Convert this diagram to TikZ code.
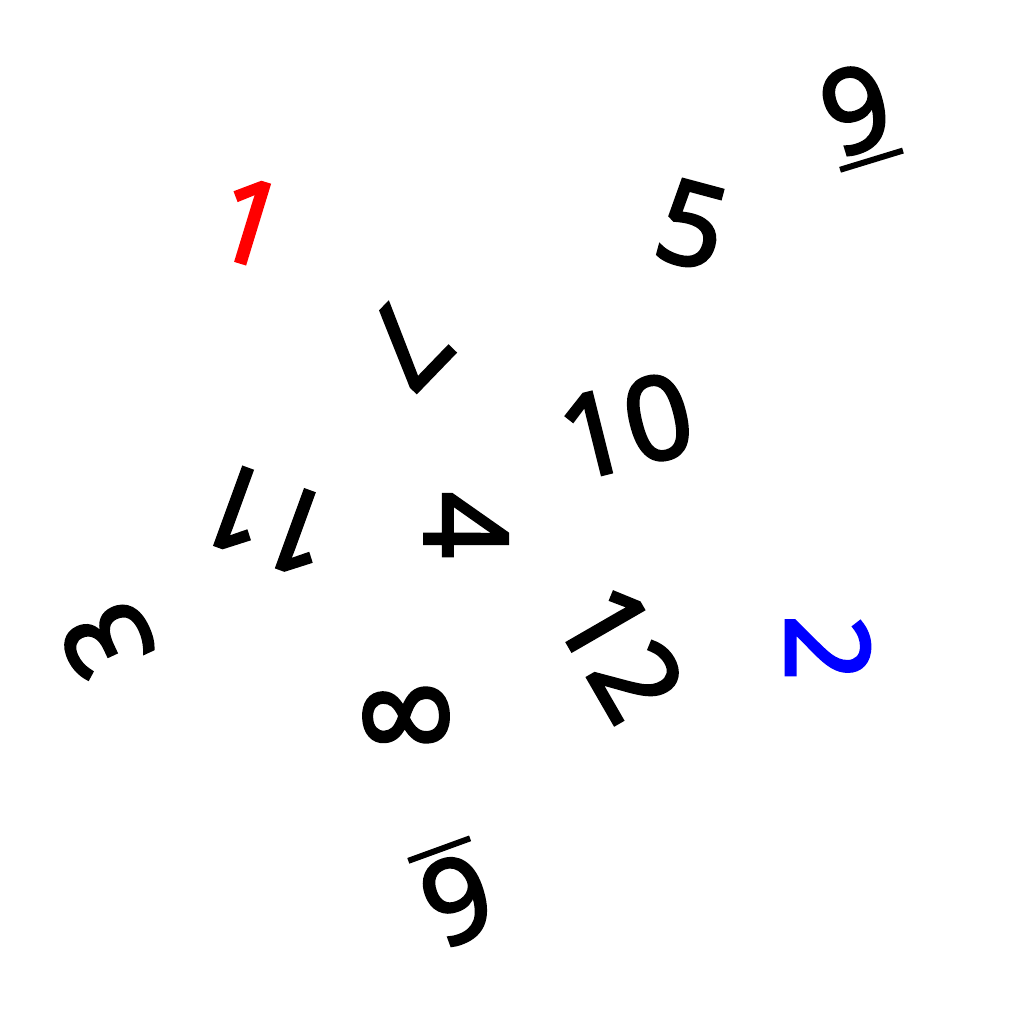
\documentclass[tikz,border=0pt]{standalone}
\usepackage{fontspec}
\setmainfont{Open Sans}
\newfontfamily\numfont{Open Sans}[FakeBold=3]
\newcommand\ulnum[1]{\vtop{\hbox{#1}\kern8pt\hrule height 6pt}}
\begin{document}
\begin{tikzpicture}[x=1pt,y=-1pt,
  num/.style={inner sep=0pt, font=\numfont\fontsize{115}{115}\selectfont}]
\useasboundingbox[fill=white] (0,0) rectangle (1024,1024);
\node[num, red, rotate=-17] (n1) at (250,222) {1};
\node[num, blue, rotate=-90] (n2) at (828,648) {2};
\node[num, rotate=115] (n3) at (107,640) {3};
\node[num, rotate=-90] (n4) at (466,525) {4};
\node[num, rotate=-15] (n5) at (692,225) {5};
\node[num, rotate=200] (n6) at (455,893) {\ulnum{6}};
\node[num, rotate=-134] (n7) at (406,344) {7};
\node[num, rotate=93] (n8) at (406,716) {8};
\node[num, rotate=17] (n9) at (858,116) {\ulnum{9}};
\node[num, rotate=14] (n10) at (626,426) {10};
\node[num, rotate=160] (n11) at (267,520) {11};
\node[num, rotate=-60] (n12) at (621,652) {12};
\end{tikzpicture}
\end{document}
